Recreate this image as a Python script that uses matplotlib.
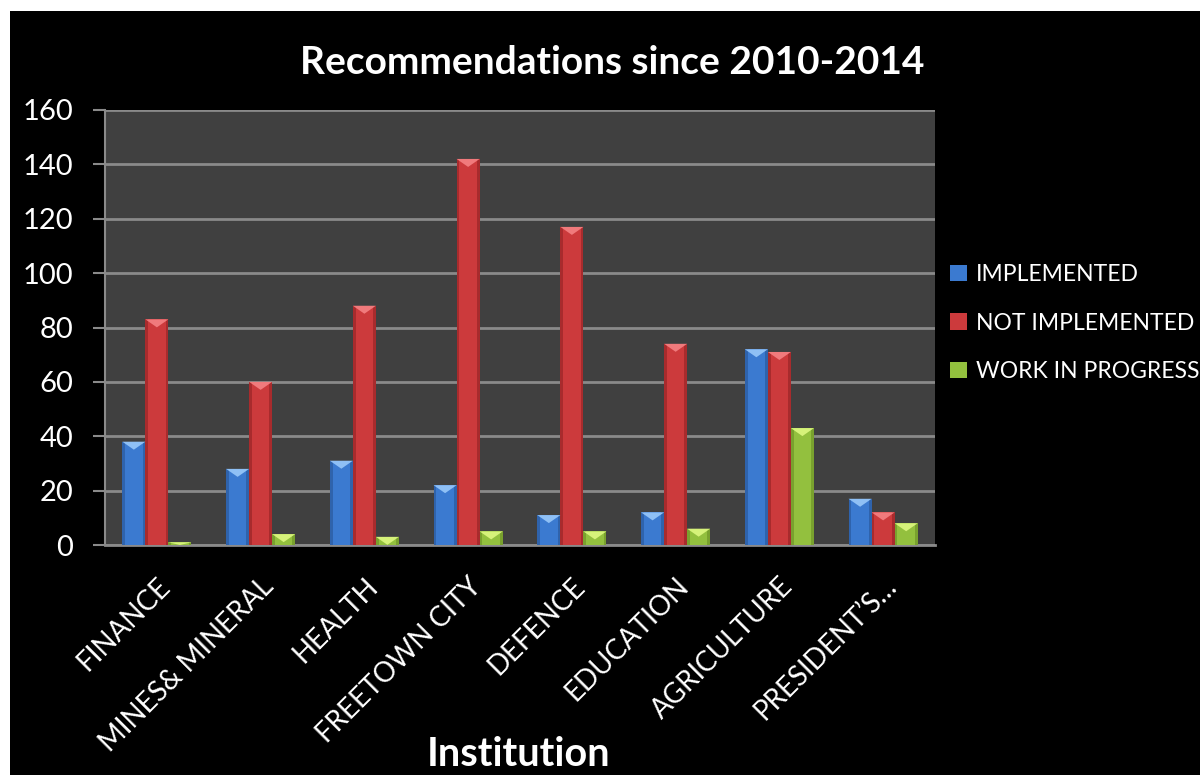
import matplotlib
matplotlib.use("Agg")
import matplotlib.pyplot as plt
import numpy as np
from matplotlib.patches import Polygon, Rectangle

plt.rcParams['font.family'] = ['Lato', 'DejaVu Sans']

categories = ["FINANCE", "MINES& MINERAL", "HEALTH", "FREETOWN CITY",
              "DEFENCE", "EDUCATION", "AGRICULTURE", "PRESIDENT\u2019S\u2026"]
implemented = [38, 28, 31, 22, 11, 12, 72, 17]
not_implemented = [83, 60, 88, 142, 117, 74, 71, 12]
work_in_progress = [1, 4, 3, 5, 5, 6, 43, 8]
series_names = ["IMPLEMENTED", "NOT IMPLEMENTED", "WORK IN PROGRESS"]
yticks = [0, 20, 40, 60, 80, 100, 120, 140, 160]

colors = ["#3b7ad0", "#cc3a3c", "#93c03e"]
light = ["#8fc0f5", "#f07a7c", "#d6f27a"]
dark = ["#2a5a9e", "#9a2628", "#6f9428"]

W, H = 1200, 775
fig = plt.figure(figsize=(W / 100, H / 100), dpi=100, facecolor="black")
# white margin at top and left
fig.patches.append(Rectangle((0, 1 - 11 / H), 1, 11 / H,
                             transform=fig.transFigure, facecolor="white",
                             edgecolor="none", zorder=10))
fig.patches.append(Rectangle((0, 0), 10 / W, 1,
                             transform=fig.transFigure, facecolor="white",
                             edgecolor="none", zorder=10))

ax = fig.add_axes([105 / W, (H - 545) / H, 830 / W, 435 / H])
ax.set_facecolor("#404040")
ax.set_ylim(0, 160)
ax.set_xlim(-0.5, len(categories) - 0.5)

x = np.arange(len(categories))
bw = 0.222
data = [implemented, not_implemented, work_in_progress]

px_per_unit = (435 / 160)
tri_h = 8 / px_per_unit

for i, (vals, c, lc, dc) in enumerate(zip(data, colors, light, dark)):
    bars = ax.bar(x + (i - 1) * bw, vals, width=bw, color=c, zorder=3,
                  edgecolor="none", label=series_names[i])
    for b in bars:
        bx, bwid, bh = b.get_x(), b.get_width(), b.get_height()
        ax.add_patch(Rectangle((bx, 0), bwid * 0.12, bh, facecolor=dc,
                               edgecolor="none", zorder=4, alpha=0.7))
        ax.add_patch(Rectangle((bx + bwid * 0.88, 0), bwid * 0.12, bh,
                               facecolor=dc, edgecolor="none", zorder=4,
                               alpha=0.7))
        th = min(tri_h, bh)
        ax.add_patch(Polygon([(bx, bh), (bx + bwid, bh),
                              (bx + bwid / 2, bh - th)], closed=True,
                             facecolor=lc, edgecolor="none", zorder=5))

ax.set_yticks(yticks)
ax.set_yticklabels([str(v) for v in yticks])
ax.yaxis.grid(True, color="#8a8a8a", linewidth=2, zorder=1)
ax.set_axisbelow(True)
ax.set_xticks(x)
ax.set_xticklabels(categories, rotation=45, ha="right", va="top",
                   rotation_mode="anchor", fontsize=20, color="white")
ax.tick_params(axis="x", length=0, pad=20)
ax.tick_params(axis="y", length=9, width=1.5, color="#8a8a8a",
               labelsize=21, labelcolor="white", pad=14)
for s in ["top", "right"]:
    ax.spines[s].set_visible(False)
ax.spines["left"].set_color("#8a8a8a")
ax.spines["left"].set_linewidth(1.5)
ax.spines["bottom"].set_color("#8a8a8a")
ax.spines["bottom"].set_linewidth(2)

fig.text(612 / W, 1 - 62 / H, "Recommendations since 2010-2014",
         ha="center", va="center", fontsize=28, fontweight="bold",
         color="white")
fig.text(519 / W, 1 - 755 / H, "Institution", ha="center", va="center",
         fontsize=28.5, fontweight="bold", color="white")

leg = fig.legend(loc="center left", bbox_to_anchor=(950 / W, 1 - 323 / H),
                 frameon=False, fontsize=16.5, labelcolor="white",
                 handlelength=0.75, handleheight=0.75, handletextpad=0.4,
                 labelspacing=1.2, borderaxespad=0, borderpad=0.0)

fig.savefig("out.png", dpi=100, facecolor=fig.get_facecolor())
